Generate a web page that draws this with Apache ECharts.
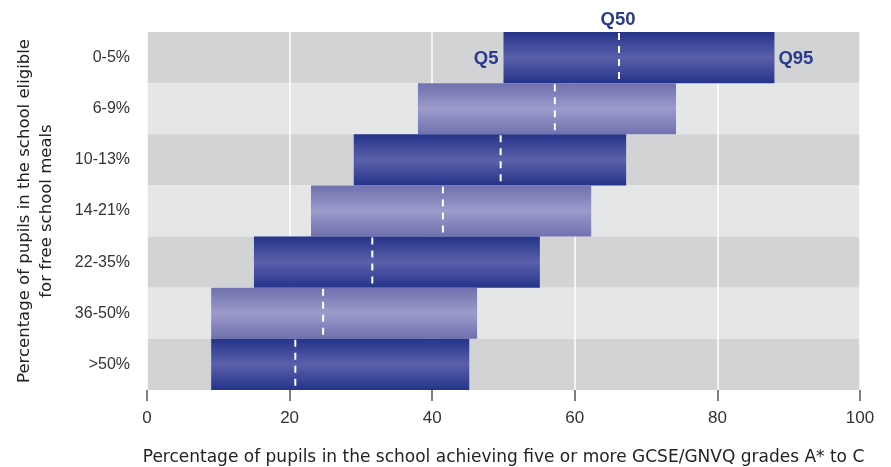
<!DOCTYPE html>
<html><head><meta charset="utf-8">
<script src="https://cdn.jsdelivr.net/npm/echarts@6/dist/echarts.min.js"></script>
<style>html,body{margin:0;padding:0;background:#fff}#c{width:891px;height:467px}</style>
</head><body><div id="c"></div>
<script>
var categories = ['0-5%', '6-9%', '10-13%', '14-21%', '22-35%', '36-50%', '>50%'];
var q5  = [50, 38, 29, 23, 15, 9, 9];
var q50 = [66.2, 57.2, 49.6, 41.5, 31.6, 24.7, 20.8];
var q95 = [88, 74.2, 67.2, 62.3, 55.1, 46.3, 45.2];
var xTicks = [0, 20, 40, 60, 80, 100];

var data = categories.map(function (c, i) { return [i, q5[i], q50[i], q95[i]]; });
var FONT = "'Liberation Sans', Arial, sans-serif";
var TFONT = "'DejaVu Sans', sans-serif";
var dark = new echarts.graphic.LinearGradient(0, 0, 0, 1, [
  {offset: 0, color: '#24348a'}, {offset: 0.5, color: '#5b60aa'}, {offset: 1, color: '#24348a'}]);
var light = new echarts.graphic.LinearGradient(0, 0, 0, 1, [
  {offset: 0, color: '#6f70ae'}, {offset: 0.5, color: '#9c9bcc'}, {offset: 1, color: '#6f70ae'}]);

var chart = echarts.init(document.getElementById('c'));
chart.setOption({
  animation: false,
  grid: {left: 147, right: 31, top: 32, bottom: 77, containLabel: false, outerBoundsMode: 'none'},
  xAxis: {
    type: 'value', min: 0, max: 100, interval: 20,
    axisLine: {show: false},
    axisTick: {show: true, length: 11, lineStyle: {color: '#555', width: 1.5}},
    axisLabel: {color: '#333', fontSize: 17, fontFamily: FONT, margin: 20,
      formatter: function (v) { return xTicks.indexOf(v) >= 0 ? String(v) : ''; }},
    splitLine: {show: true, lineStyle: {color: '#ffffff', width: 1.5}},
    name: 'Percentage of pupils in the school achieving five or more GCSE/GNVQ grades A* to C',
    nameLocation: 'middle', nameGap: 59,
    nameTextStyle: {color: '#222', fontSize: 17, fontFamily: TFONT}
  },
  yAxis: {
    type: 'category', data: categories, inverse: true,
    axisLine: {show: false}, axisTick: {show: false},
    axisLabel: {color: '#333', fontSize: 16, fontFamily: FONT, margin: 17},
    splitArea: {show: true, areaStyle: {color: ['#d2d3d5', '#e5e6e8']}},
    name: 'Percentage of pupils in the school eligible\nfor free school meals',
    nameLocation: 'middle', nameGap: 89, nameRotate: 90,
    nameTextStyle: {color: '#222', fontSize: 16.5, fontFamily: TFONT, lineHeight: 22}
  },
  series: [{
    type: 'custom',
    data: data,
    encode: {x: [1, 2, 3], y: 0},
    renderItem: function (params, api) {
      var idx = api.value(0);
      var p0 = api.coord([api.value(1), idx]);
      var p1 = api.coord([api.value(3), idx]);
      var pm = api.coord([api.value(2), idx]);
      var h = api.size([0, 1])[1];
      var top = p0[1] - h / 2;
      var children = [
        {type: 'rect', shape: {x: p0[0], y: top, width: p1[0] - p0[0], height: h},
          style: {fill: idx % 2 === 0 ? dark : light}},
        {type: 'line', shape: {x1: pm[0], y1: top + 1, x2: pm[0], y2: top + h - 2},
          style: {stroke: '#ffffff', lineWidth: 2, lineDash: [7, 6]}}
      ];
      if (idx === 0) {
        var ts = {fill: '#2a3a8c', fontSize: 18.5, fontWeight: 'bold', fontFamily: FONT};
        children.push({type: 'text', x: p0[0] - 5, y: p0[1] + 1,
          style: Object.assign({text: 'Q5', align: 'right', verticalAlign: 'middle'}, ts)});
        children.push({type: 'text', x: p1[0] + 4, y: p1[1] + 1,
          style: Object.assign({text: 'Q95', align: 'left', verticalAlign: 'middle'}, ts)});
        children.push({type: 'text', x: pm[0] - 1, y: top - 12,
          style: Object.assign({text: 'Q50', align: 'center', verticalAlign: 'middle'}, ts)});
      }
      return {type: 'group', children: children};
    }
  }]
});
</script></body></html>
